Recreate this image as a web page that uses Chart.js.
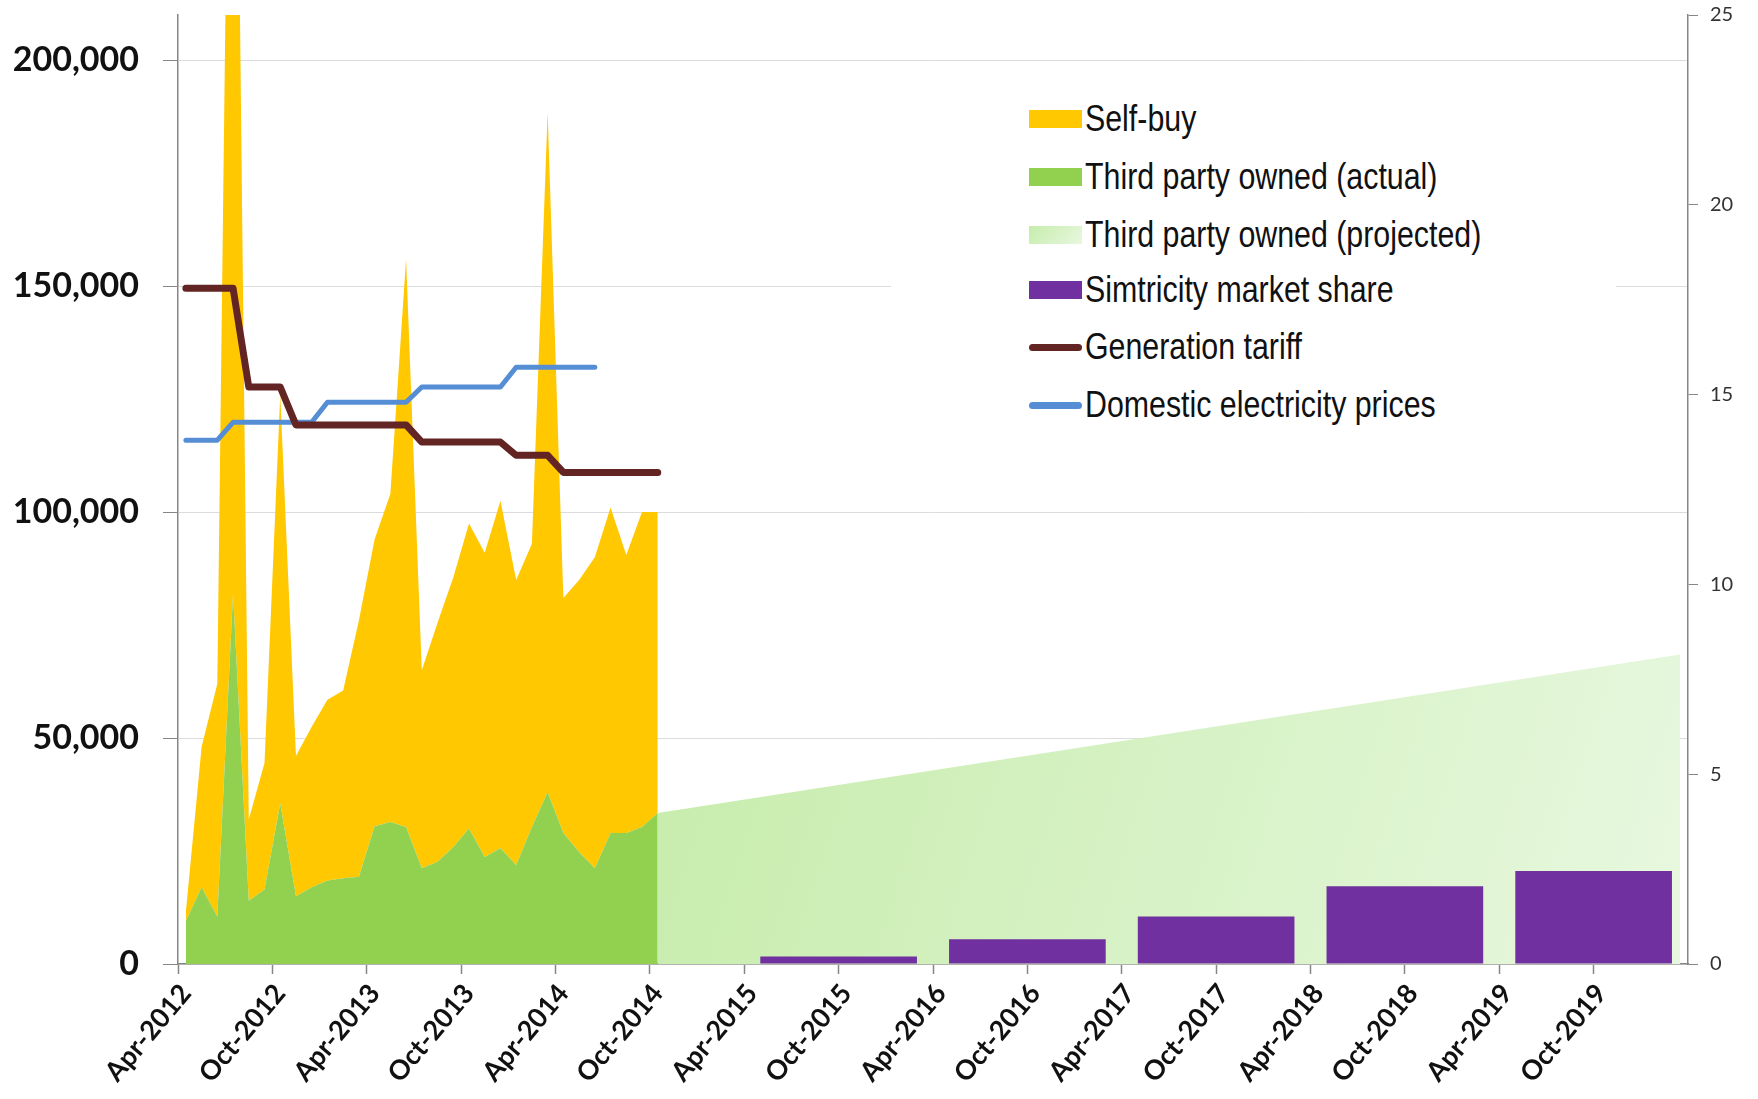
<!DOCTYPE html>
<html>
<head>
<meta charset="utf-8">
<script src="https://cdn.jsdelivr.net/npm/chart.js@4.4.1/dist/chart.umd.min.js"></script>
<style>
  body { margin: 0; background: #fff; }
  #wrap { position: relative; width: 1758px; height: 1099px; }
  #legend {
    position: absolute; left: 891px; top: 78px; width: 725px; height: 372px;
    background: #fff; color: #111;
    font-family: "Liberation Sans", Arial, sans-serif; font-size: 37px;
  }
  .item { position: absolute; left: 138px; height: 40px; display: flex; align-items: center; white-space: nowrap; }
  .item .txt { display: inline-block; transform: scaleX(0.82); transform-origin: left center; }
  .sw { width: 53px; height: 18px; margin-right: 3px; }
  .ln { width: 53px; height: 7px; border-radius: 4px; margin-right: 3px; }
</style>
</head>
<body>
<div id="wrap">
  <canvas id="grafico"></canvas>
  <div id="legend"></div>
</div>
<script>
// Dados (mensal, Apr-2012 .. Mar-2020)
const nomesMes = ['Apr', 'May', 'Jun', 'Jul', 'Aug', 'Sep', 'Oct', 'Nov', 'Dec', 'Jan', 'Feb', 'Mar'];
const anoInicial = 2012;
const totalMeses = 96;

// eixo anual (barras Simtricity)
const anos = ['2012/13', '2013/14', '2014/15', '2015/16', '2016/17', '2017/18', '2018/19', '2019/20'];

// ticks do eixo esquerdo
const ticksEsquerda = [0, 50000, 100000, 150000, 200000];

// Apr-2012 .. Oct-2014
const selfBuy = [2000, 31000, 51500, 268000, 18000, 28000, 90500, 31000, 35500, 40000, 41500,
  56700, 63500, 72600, 125700, 43800, 52900, 59600, 67500, 67300, 76900, 63100, 62700,
  150500, 52000, 60200, 68800, 72000, 61500, 69700, 66600];
const tpoActual = [9500, 17000, 10500, 82000, 14000, 16500, 35500, 15000, 17000, 18500, 19000,
  19300, 30500, 31400, 30300, 21200, 22600, 25900, 30000, 23700, 25600, 21900, 30300,
  38000, 29000, 24800, 21200, 29000, 29000, 30300, 33400];
const tpoProjected = [{ x: 'Oct-2014', y: 33400 }, { x: 'Mar-2020', y: 68500 }];

// eixo direito
const generationTariff = [17.8, 17.8, 17.8, 17.8, 15.2, 15.2, 15.2, 14.2, 14.2, 14.2, 14.2,
  14.2, 14.2, 14.2, 14.2, 13.75, 13.75, 13.75, 13.75, 13.75, 13.75, 13.4, 13.4, 13.4,
  12.95, 12.95, 12.95, 12.95, 12.95, 12.95, 12.95];
const domesticPrices = [13.8, 13.8, 13.8, 14.27, 14.27, 14.27, 14.27, 14.27, 14.27, 14.8, 14.8,
  14.8, 14.8, 14.8, 14.8, 15.2, 15.2, 15.2, 15.2, 15.2, 15.2, 15.72, 15.72, 15.72, 15.72,
  15.72, 15.72];
const simtricityShare = [null, null, null, 0.2, 0.65, 1.25, 2.05, 2.45];

const cores = {
  selfBuy: '#ffc800',
  tpoActual: '#92d050',
  tpoProjected: '#d2f1bf',
  simtricity: '#7030a0',
  tariff: '#632523',
  prices: '#558ed5',
};

// rótulos mensais
const meses = [];
for (let i = 0; i < totalMeses; i++) {
  meses.push(nomesMes[i % 12] + '-' + (anoInicial + Math.floor((i + 3) / 12)));
}

function gradienteProjetado(c) {
  const area = c.chart.chartArea;
  if (!area) return cores.tpoProjected;
  const g = c.chart.ctx.createLinearGradient(area.left + 480, area.top + 620, area.right, area.bottom);
  g.addColorStop(0, '#c6ecab');
  g.addColorStop(1, '#e8f8e0');
  return g;
}

// Remove o preenchimento automático dos eixos
function semPadding(s) {
  s.paddingTop = 0;
  s.paddingBottom = 0;
  s.paddingLeft = 0;
  s.paddingRight = 0;
}

const ctx = document.getElementById('grafico').getContext('2d');
const grafico = new Chart(ctx, {
  type: 'line',
  data: {
    labels: meses,
    datasets: [
      {
        label: 'Generation tariff', data: generationTariff, yAxisID: 'y1',
        borderColor: cores.tariff, borderWidth: 7, pointRadius: 0, fill: false,
        borderCapStyle: 'round', borderJoinStyle: 'round',
      },
      {
        label: 'Domestic electricity prices', data: domesticPrices, yAxisID: 'y1',
        borderColor: cores.prices, borderWidth: 5, pointRadius: 0, fill: false,
        borderCapStyle: 'round', borderJoinStyle: 'round',
      },
      {
        type: 'bar', label: 'Simtricity market share', data: simtricityShare,
        xAxisID: 'xYear', yAxisID: 'y1', backgroundColor: cores.simtricity,
        grouped: false, barPercentage: 1, categoryPercentage: 0.83,
      },
      {
        label: 'Third party owned (actual)', data: tpoActual, stack: 'a',
        backgroundColor: cores.tpoActual, borderWidth: 0, pointRadius: 0, fill: 'origin',
      },
      {
        label: 'Self-buy', data: selfBuy, stack: 'a',
        backgroundColor: cores.selfBuy, borderWidth: 0, pointRadius: 0, fill: '-1',
      },
      {
        label: 'Third party owned (projected)', data: tpoProjected, stack: 'b',
        backgroundColor: gradienteProjetado, borderWidth: 0, pointRadius: 0, fill: 'origin',
      },
    ],
  },
  options: {
    responsive: true,
    maintainAspectRatio: false,
    animation: false,
    layout: { padding: { left: 8, top: 15, right: 0, bottom: 0 } },
    plugins: { legend: { display: false }, tooltip: { enabled: false } },
    scales: {
      x: {
        type: 'category',
        offset: true,
        grid: {
          offset: true, drawOnChartArea: false, tickLength: 10, tickWidth: 1.5,
          tickColor: (c) => (c.index % 6 === 0 ? '#868686' : 'transparent'),
        },
        border: { color: '#868686', width: 1.5 },
        ticks: {
          autoSkip: false, minRotation: 50, maxRotation: 50, padding: 4, color: '#111',
          font: { family: 'Lato', weight: 'bold', size: 27 },
          callback(v, i) { return i % 6 === 0 ? this.getLabelForValue(v) : ''; },
        },
        afterFit: (s) => { s.height = 135; semPadding(s); },
      },
      xYear: { type: 'category', labels: anos, offset: true, display: false },
      y: {
        stacked: true, min: 0, max: 210000,
        afterBuildTicks: (s) => { s.ticks = ticksEsquerda.map((v) => ({ value: v })); },
        ticks: {
          padding: 24, color: '#111',
          font: { family: 'Lato', weight: 'bold', size: 34 },
          callback: (v) => v.toLocaleString('en-US'),
        },
        grid: { color: '#dcdcdc', tickColor: '#868686', tickLength: 15 },
        border: { color: '#868686', width: 1.5 },
        afterFit: (s) => { s.width = 170; semPadding(s); },
      },
      y1: {
        position: 'right', min: 0, max: 25,
        ticks: { stepSize: 5, padding: 12, color: '#333', font: { family: 'Lato', size: 20 } },
        grid: { drawOnChartArea: false, tickLength: 10, tickColor: '#868686' },
        border: { color: '#868686', width: 1.5 },
        afterFit: (s) => { s.width = 70; semPadding(s); },
      },
    },
  },
});

// Legenda em HTML
const itensLegenda = [
  { texto: 'Self-buy', cor: cores.selfBuy, tipo: 'sw' },
  { texto: 'Third party owned (actual)', cor: cores.tpoActual, tipo: 'sw' },
  { texto: 'Third party owned (projected)', cor: 'linear-gradient(135deg, #c6ecab, #e8f8e0)', tipo: 'sw' },
  { texto: 'Simtricity market share', cor: cores.simtricity, tipo: 'sw' },
  { texto: 'Generation tariff', cor: cores.tariff, tipo: 'ln' },
  { texto: 'Domestic electricity prices', cor: cores.prices, tipo: 'ln' },
];
const centrosY = [41, 99, 157, 212, 269, 327];
const legenda = document.getElementById('legend');
itensLegenda.forEach((item, i) => {
  const div = document.createElement('div');
  div.className = 'item';
  div.style.top = (centrosY[i] - 20) + 'px';
  const sw = document.createElement('span');
  sw.className = item.tipo;
  sw.style.background = item.cor;
  const txt = document.createElement('span');
  txt.className = 'txt';
  txt.textContent = item.texto;
  div.appendChild(sw);
  div.appendChild(txt);
  legenda.appendChild(div);
});
</script>
</body>
</html>
